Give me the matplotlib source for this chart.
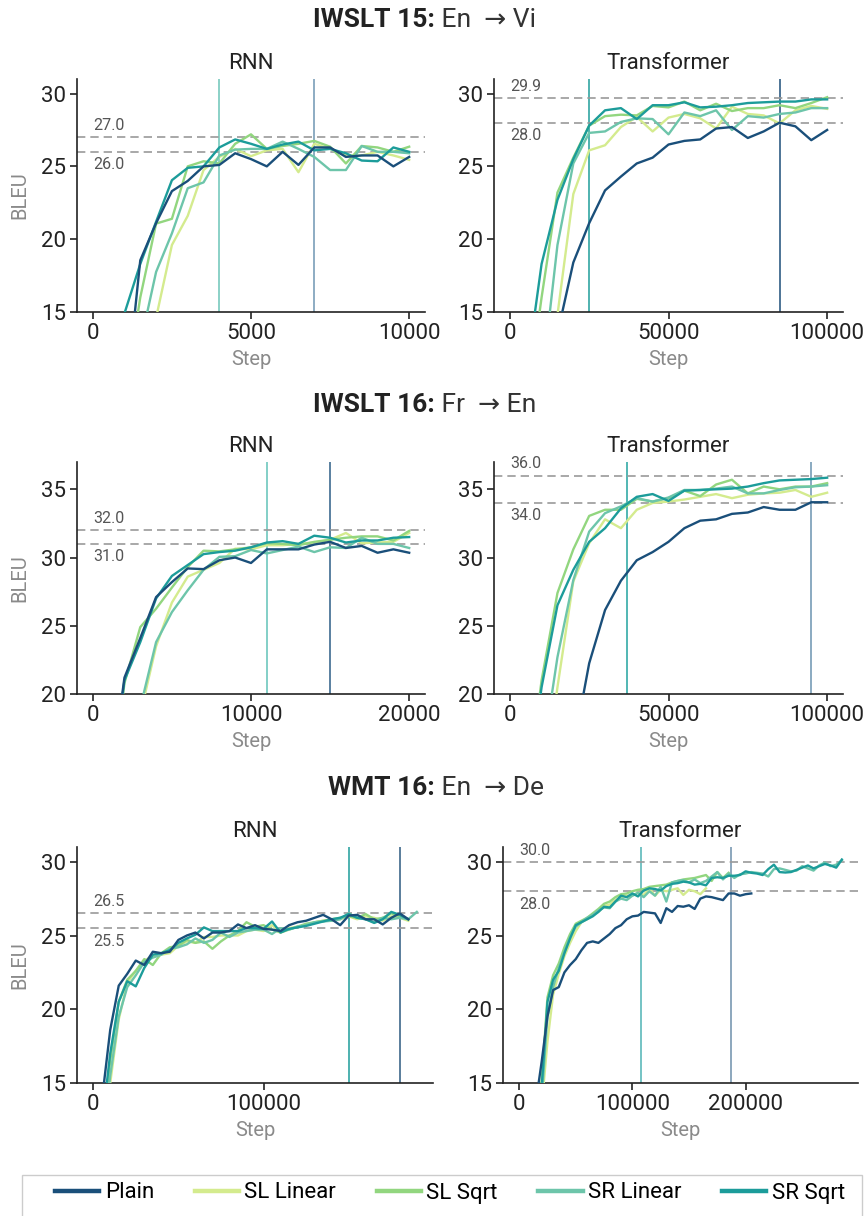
import numpy as np
import matplotlib
matplotlib.use("Agg")
import matplotlib.pyplot as plt
from matplotlib.lines import Line2D
from matplotlib.patches import Rectangle

plt.rcParams['font.family'] = ['Roboto', 'DejaVu Sans']

nan = np.nan

# ---- series meta ----
series_names = ["Plain", "SL Linear", "SL Sqrt", "SR Linear", "SR Sqrt"]
series_colors = ["#1a4f7a", "#d4eb8e", "#92d67f", "#6dc5aa", "#1c9c9a"]

# ---- IWSLT 15 En->Vi, RNN ----
iwslt15_rnn_steps = np.arange(500, 10001, 500)
iwslt15_rnn = {
    "Plain":     [4, 8.1, 18.55, 21.1, 23.3, 24.0, 25.0, 25.1, 25.9, 25.5, 25.0, 26.0, 25.1, 26.3, 26.3, 25.65, 25.75, 25.75, 25.0, 25.65],
    "SL Linear": [1, 5, 10, 14.6, 19.6, 21.6, 24.75, 25.65, 26.2, 25.7, 26.1, 26.2, 24.6, 26.55, 26.2, 25.75, 25.75, 26.0, 25.75, 25.45],
    "SL Sqrt":   [3, 9, 16.0, 21.07, 21.4, 25.0, 25.35, 25.2, 26.55, 27.2, 26.2, 26.4, 26.55, 26.75, 26.35, 25.2, 26.4, 26.3, 26.0, 26.35],
    "SR Linear": [2, 6, 12.8, 17.75, 20.4, 23.5, 23.9, 25.75, 26.15, 26.2, 26.2, 26.7, 26.2, 25.65, 24.75, 24.75, 26.4, 26.0, 26.0, 25.9],
    "SR Sqrt":   [8, 14.9, 18.3, 21.2, 24.05, 24.9, 25.0, 26.3, 26.85, 26.55, 26.2, 26.5, 26.7, 26.1, 26.2, 25.9, 25.4, 25.35, 26.3, 26.0],
}

# ---- IWSLT 15 En->Vi, Transformer ----
iwslt15_tf_steps = np.arange(5000, 100001, 5000)
iwslt15_tf = {
    "Plain":     [2, 7, 13.5, 18.4, 21.1, 23.35, 24.3, 25.2, 25.6, 26.5, 26.75, 26.85, 27.6, 27.7, 26.95, 27.4, 28.0, 27.75, 26.8, 27.5],
    "SL Linear": [2, 8, 14.8, 23.1, 26.1, 26.45, 27.7, 28.4, 27.4, 28.35, 28.6, 28.3, 27.6, 29.1, 28.6, 28.5, 27.95, 28.85, 29.15, 28.95],
    "SL Sqrt":   [8, 16.0, 23.2, 25.6, 27.8, 28.45, 28.55, 28.5, 29.15, 29.05, 29.45, 28.85, 29.3, 28.8, 29.0, 29.0, 29.2, 29.0, 29.35, 29.75],
    "SR Linear": [3, 10, 19.6, 25.2, 27.3, 27.4, 28.05, 28.3, 28.25, 27.2, 28.7, 28.45, 28.85, 27.5, 28.45, 28.35, 28.6, 28.7, 29.0, 29.0],
    "SR Sqrt":   [10.4, 18.3, 22.7, 25.5, 27.8, 28.85, 29.0, 28.25, 29.2, 29.2, 29.4, 29.05, 29.1, 29.2, 29.35, 29.4, 29.45, 29.45, 29.6, 29.6],
}

# ---- IWSLT 16 Fr->En, RNN ----
iwslt16_rnn_steps = np.arange(1000, 20001, 1000)
iwslt16_rnn = {
    "Plain":     [12.6, 21.2, 24.1, 27.1, 28.2, 29.2, 29.15, 29.8, 30.0, 29.6, 30.6, 30.6, 30.6, 30.95, 31.15, 30.7, 30.85, 30.35, 30.6, 30.35],
    "SL Linear": [7, 13, 18.5, 23.5, 26.7, 28.6, 29.1, 29.6, 30.65, 30.6, 30.9, 30.9, 31.0, 31.1, 31.3, 31.8, 31.05, 31.1, 31.15, 31.8],
    "SL Sqrt":   [11.5, 20.8, 24.9, 26.25, 27.8, 29.3, 30.5, 30.45, 30.6, 30.75, 31.05, 31.0, 30.9, 31.15, 31.3, 31.45, 31.55, 31.55, 31.25, 31.95],
    "SR Linear": [8, 14, 19.0, 23.8, 26.0, 27.6, 29.1, 30.05, 30.1, 30.55, 30.3, 30.55, 30.8, 30.4, 30.75, 30.7, 31.45, 31.0, 31.0, 30.7],
    "SR Sqrt":   [12, 21.0, 23.8, 27.0, 28.65, 29.45, 30.25, 30.4, 30.5, 30.75, 31.1, 31.2, 31.0, 31.6, 31.45, 31.1, 31.25, 31.25, 31.45, 31.5],
}

# ---- IWSLT 16 Fr->En, Transformer ----
iwslt16_tf_steps = np.arange(5000, 100001, 5000)
iwslt16_tf = {
    "Plain":     [2, 6, 11, 16, 22.25, 26.15, 28.3, 29.8, 30.4, 31.15, 32.15, 32.7, 32.8, 33.2, 33.3, 33.7, 33.5, 33.5, 34.05, 34.05],
    "SL Linear": [4, 12, 20.5, 28.25, 31.05, 32.8, 32.15, 33.5, 34.0, 34.1, 34.25, 34.45, 34.65, 34.35, 34.6, 34.7, 34.75, 34.95, 34.45, 34.75],
    "SL Sqrt":   [12, 21.0, 27.4, 30.6, 33.05, 33.5, 33.5, 34.3, 34.1, 34.35, 34.9, 34.5, 35.35, 35.7, 34.7, 35.2, 35.0, 35.2, 35.2, 35.45],
    "SR Linear": [6, 15.0, 22.7, 28.35, 31.9, 33.25, 33.75, 34.35, 34.1, 34.4, 34.95, 34.95, 35.05, 35.2, 34.7, 34.7, 34.95, 35.15, 35.2, 35.3],
    "SR Sqrt":   [12, 20.5, 26.5, 29.1, 31.15, 32.15, 33.6, 34.45, 34.65, 34.15, 34.9, 34.95, 35.0, 35.05, 35.2, 35.45, 35.65, 35.7, 35.75, 35.85],
}

# ---- WMT 16 En->De, RNN ----
wmt16_rnn_steps = np.arange(5000, 190001, 5000)
wmt16_rnn = {
    "Plain":     [13.7, 18.6, 21.6, 22.4, 23.3, 23.0, 23.9, 23.8, 23.9, 24.7, 25.0, 25.2, 24.8, 25.2, 25.2, 25.3, 25.75, 25.5, 25.7,
                  25.45, 25.4, 25.3, 25.7, 25.9, 26.0, 26.2, 26.4, 26.1, 25.7, 26.35, 26.4, 26.1, 26.1, 25.75, 26.2, 26.5, 26.1, nan],
    "SL Linear": [10, 15.0, 19.3, 21.8, 22.6, 23.3, 23.6, 23.7, 23.8, 24.3, 24.6, 24.5, 24.9, 24.9, 25.0, 25.0, 25.0, 25.3, 25.4,
                  25.3, 25.7, 25.2, 25.5, 25.6, 25.7, 25.9, 26.0, 26.0, 26.1, 26.3, 26.1, 26.3, 26.2, 26.0, 26.3, 26.2, 26.0, nan],
    "SL Sqrt":   [11.5, 16.5, 20.5, 22.0, 22.6, 23.4, 23.0, 23.8, 24.2, 24.3, 24.7, 24.5, 24.6, 24.1, 24.6, 25.0, 25.3, 25.9, 25.6,
                  25.7, 25.4, 25.2, 25.4, 25.6, 25.8, 25.9, 26.0, 26.1, 26.2, 26.3, 26.2, 26.45, 26.1, 26.2, 26.5, 26.3, 26.1, nan],
    "SR Linear": [10.5, 15.5, 19.5, 21.5, 22.3, 23.2, 23.5, 23.7, 24.1, 24.2, 24.4, 24.8, 24.5, 24.7, 25.2, 24.9, 25.2, 25.3, 25.4,
                  25.4, 25.1, 25.5, 25.4, 25.6, 25.7, 25.9, 25.95, 26.0, 26.1, 26.5, 26.2, 26.1, 25.9, 26.2, 26.1, 26.2, 26.1, 26.6],
    "SR Sqrt":   [12.0, 17.0, 20.5, 21.9, 21.55, 22.8, 23.7, 23.8, 24.0, 24.5, 24.8, 25.05, 25.55, 25.3, 25.3, 25.3, 25.3, 25.5, 25.5,
                  25.45, 25.95, 25.2, 25.45, 25.55, 25.65, 25.8, 25.95, 26.1, 26.2, 26.45, 26.2, 26.1, 25.85, 26.1, 26.6, 26.4, 26.1, nan],
}

# ---- WMT 16 En->De, Transformer ----
wmt16_tf_steps = np.arange(10000, 285001, 5000)
wmt16_tf = {
    "Plain":     [11.0, 13.8, 16.5, 19.5, 21.3, 21.5, 22.5, 23.0, 23.4, 24.0, 24.5, 24.6, 24.5, 24.8, 25.1, 25.5, 25.7, 26.1, 26.3, 26.35,
                  26.6, 26.55, 26.5, 25.85, 26.85, 26.6, 27.0, 26.95, 27.05, 26.8, 27.5, 27.65, 27.6, 27.5, 27.4, 27.85, 27.85, 27.7, 27.8, 27.85]
                 + [nan] * 16,
    "SL Linear": [6, 10, 13.5, 17.8, 21.0, 22.4, 23.6, 24.5, 25.3, 25.9, 26.1, 26.4, 26.6, 27.0, 27.1, 27.4, 27.6, 27.7, 27.7, 27.9,
                  27.75, 28.2, 27.7, 28.1, 28.0, 28.1, 28.2, 27.75, 28.1, 28.0, 27.8, 28.2] + [nan] * 24,
    "SL Sqrt":   [8.5, 12.5, 15.2, 20.8, 22.3, 23.1, 24.2, 25.1, 25.8, 26.0, 26.2, 26.5, 26.8, 27.15, 27.3, 27.6, 27.8, 27.85, 28.0, 28.1,
                  28.15, 28.3, 28.35, 28.4, 28.45, 28.6, 28.7, 28.8, 28.85, 28.9, 29.0, 29.1, 28.7, 29.3, 28.9, 29.25] + [nan] * 20,
    "SR Linear": [7, 11, 14, 19.5, 21.5, 22.8, 23.9, 24.9, 25.6, 25.9, 26.2, 26.4, 26.7, 26.9, 26.85, 27.3, 27.5, 27.4, 27.7, 27.9,
                  27.6, 28.0, 27.7, 28.3, 27.3, 28.6, 28.7, 28.75, 28.6, 28.8, 28.55, 28.7, 29.0, 29.3, 28.8, 29.2, 28.9, 29.15, 29.2, 29.3,
                  29.25, 29.2, 29.0, 29.5, 29.55, 29.45, 29.35, 29.4, 29.7, 29.55, 29.4, 29.75, 29.95, 29.7, 29.8, 30.1],
    "SR Sqrt":   [8, 12, 14.8, 20.5, 22.0, 22.6, 23.8, 24.8, 25.7, 25.9, 26.1, 26.3, 26.6, 26.95, 26.9, 27.3, 27.7, 27.6, 27.85, 27.65,
                  28.05, 28.2, 28.15, 28.05, 28.35, 28.5, 28.55, 28.65, 28.6, 28.45, 28.5, 28.4, 28.9, 28.95, 28.9, 29.05, 29.05, 29.1, 29.35, 29.25,
                  29.2, 29.1, 29.5, 29.8, 29.3, 29.27, 29.3, 29.45, 29.6, 29.75, 29.55, 29.7, 29.85, 29.75, 29.6, 30.15],
}

# ---- reference lines per panel ----
hline_values = [(27.0, 26.0), (29.7, 28.0), (32.0, 31.0), (36.0, 34.0), (26.5, 25.5), (30.0, 28.0)]
hline_labels = [("27.0", "26.0"), ("29.9", "28.0"), ("32.0", "31.0"), ("36.0", "34.0"), ("26.5", "25.5"), ("30.0", "28.0")]
vline_steps = [(4000, 7000), (25000, 85000), (11000, 15000), (37000, 95000), (150000, 180000), (108000, 187000)]
vline_colors = [("#6cc5b8", "#6f96b3"), ("#1f9e9a", "#1d4e79"), ("#62c2b8", "#2c5e86"),
                ("#22a39f", "#6b93b0"), ("#1c9d9a", "#2c5a80"), ("#4eb3b4", "#6d8fab")]

row_titles = [("IWSLT 15:", " En  \u2192 Vi"), ("IWSLT 16:", " Fr  \u2192 En"), ("WMT 16:", " En  \u2192 De")]

panels = [
    (iwslt15_rnn_steps, iwslt15_rnn, "RNN", (-500, 10500), (15, 31), [0, 5000, 10000], [15, 20, 25, 30]),
    (iwslt15_tf_steps, iwslt15_tf, "Transformer", (-5000, 105000), (15, 31), [0, 50000, 100000], [15, 20, 25, 30]),
    (iwslt16_rnn_steps, iwslt16_rnn, "RNN", (-1000, 21000), (20, 37), [0, 10000, 20000], [20, 25, 30, 35]),
    (iwslt16_tf_steps, iwslt16_tf, "Transformer", (-5000, 105000), (20, 37), [0, 50000, 100000], [20, 25, 30, 35]),
    (wmt16_rnn_steps, wmt16_rnn, "RNN", (-9500, 199500), (15, 31), [0, 100000], [15, 20, 25, 30]),
    (wmt16_tf_steps, wmt16_tf, "Transformer", (-14250, 299250), (15, 31), [0, 100000, 200000], [15, 20, 25, 30]),
]

# axes boxes in pixels: left, top, right, bottom
W, H = 864, 1216
boxes = [(77, 79, 425, 312), (494, 79, 843, 312),
         (77, 462, 425, 694), (494, 462, 843, 694),
         (77, 847, 433, 1083), (503, 847, 858, 1083)]

fig = plt.figure(figsize=(W / 100, H / 100), dpi=100)

for i, (steps, data, title, xlim, ylim, xticks, yticks) in enumerate(panels):
    l, t, r, b = boxes[i]
    ax = fig.add_axes([l / W, 1 - b / H, (r - l) / W, (b - t) / H])

    for name, color in zip(series_names, series_colors):
        z = 4 if name == "Plain" else 3
        ax.plot(steps, data[name], color=color, lw=1.7, zorder=z)

    hi, lo = hline_values[i]
    hl_hi, hl_lo = hline_labels[i]
    for y in (hi, lo):
        ax.axhline(y, color="#9a9a9a", lw=1.2, ls=(0, (5, 3)), zorder=2)
    ax.annotate(hl_hi, (0, hi), xytext=(0, 3), textcoords="offset points",
                ha="left", va="bottom", fontsize=11.5, color="#555555")
    ax.annotate(hl_lo, (0, lo), xytext=(0, -4), textcoords="offset points",
                ha="left", va="top", fontsize=11.5, color="#555555")

    for x, c in zip(vline_steps[i], vline_colors[i]):
        ax.axvline(x, color=c, lw=1.1, zorder=1)

    ax.set_xlim(*xlim)
    ax.set_ylim(*ylim)
    ax.set_xticks(xticks)
    ax.set_yticks(yticks)
    ax.tick_params(labelsize=16, colors="#222222", length=5, width=1.2, pad=3)
    for s in ("top", "right"):
        ax.spines[s].set_visible(False)
    for s in ("left", "bottom"):
        ax.spines[s].set_color("#222222")
        ax.spines[s].set_linewidth(1.2)

    ax.set_title(title, fontsize=16, color="#222222", pad=7)
    ax.set_xlabel("Step", fontsize=14.5, color="#8a8a8a", labelpad=4)
    if i % 2 == 0:
        ax.set_ylabel("BLEU", fontsize=14.5, color="#8a8a8a", labelpad=8)

# row titles
row_y = [20, 405, 788]
for (bold, rest), y in zip(row_titles, row_y):
    fig.text(435 / W, 1 - y / H, bold, ha="right", va="center",
             fontsize=19, fontweight="bold", color="#222222")
    fig.text(435 / W, 1 - y / H, rest, ha="left", va="center",
             fontsize=19, fontweight="normal", color="#333333")

# legend: frame drawn as a patch, entries spread over the inner width
fig.patches.append(Rectangle((22 / W, -0.01), 840 / W, 0.01 + (1216 - 1175) / H,
                             transform=fig.transFigure, fill=False,
                             edgecolor="#cccccc", lw=1.0))
handles = [Line2D([], [], color=c, lw=3.2) for c in series_colors]
fig.legend(handles, series_names, loc="center left",
           bbox_to_anchor=(55 / W, 1 - 1193 / H, 790 / W, 0), mode="expand",
           ncol=5, fontsize=16, frameon=False,
           handlelength=2.0, handletextpad=0.25,
           borderpad=0, borderaxespad=0)

fig.savefig("out.png", dpi=100)
